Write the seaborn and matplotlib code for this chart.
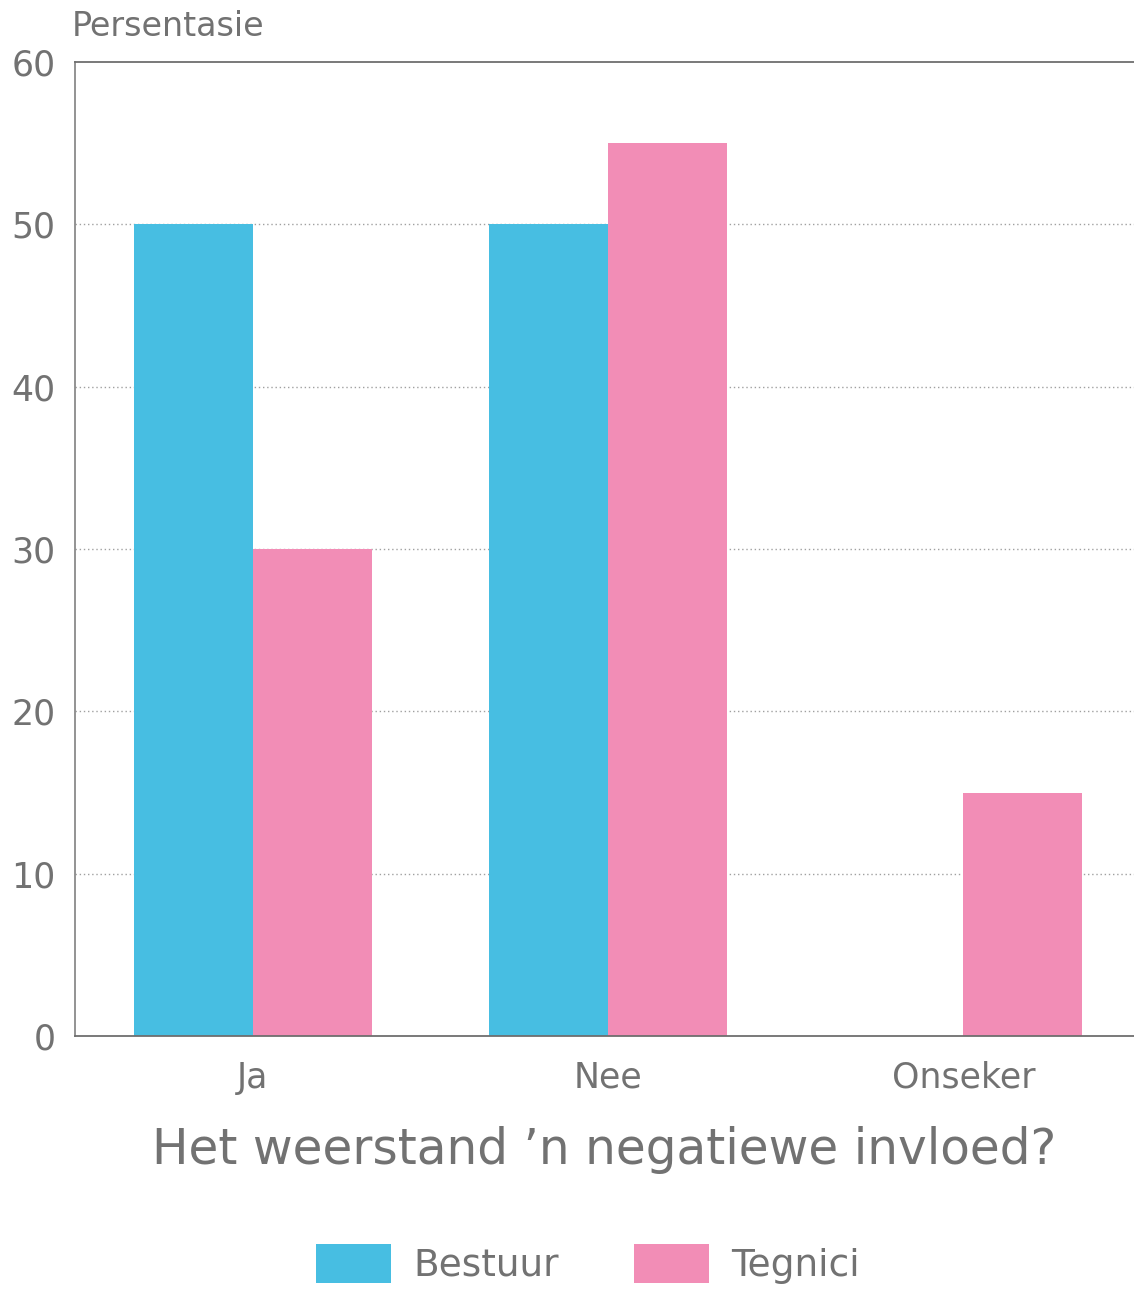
import matplotlib
matplotlib.use("Agg")
import matplotlib.pyplot as plt
import seaborn as sns
import pandas as pd
from matplotlib.patches import Patch

categories = ["Ja", "Nee", "Onseker"]
groups = ["Bestuur", "Tegnici"]
bestuur = [50, 50, 0]
tegnici = [30, 55, 15]
y_ticks = [0, 10, 20, 30, 40, 50, 60]

colors = {"Bestuur": "#47BEE2", "Tegnici": "#F28DB6"}
text_gray = "#727272"

df = pd.DataFrame({
    "kategorie": categories * 2,
    "groep": [groups[0]] * len(categories) + [groups[1]] * len(categories),
    "persentasie": bestuur + tegnici,
})

sns.set_theme(style="white")
plt.rcParams["font.family"] = ["DejaVu Sans"]

fig = plt.figure(figsize=(11.34, 12.90), dpi=100)
ax = fig.add_axes([75 / 1134, 254 / 1290, 1.0 - 75 / 1134, 974 / 1290])

sns.barplot(data=df, x="kategorie", y="persentasie", hue="groep",
            order=categories, hue_order=groups, palette=colors,
            width=0.67, saturation=1, linewidth=0, ax=ax, legend=False)

ax.set_ylim(0, 60)
ax.set_xlim(-0.5, 2.48)
ax.set_yticks(y_ticks)
ax.set_yticklabels([str(v) for v in y_ticks])
for v in y_ticks[1:-1]:
    ax.axhline(v, color="#a0a0a0", linestyle=(0, (1, 2)), linewidth=1.0, zorder=0)
ax.set_axisbelow(True)

for side in ["left", "bottom", "top"]:
    ax.spines[side].set_visible(True)
    ax.spines[side].set_color("#6e6e6e")
    ax.spines[side].set_linewidth(1.3)
ax.spines["left"].set_color("#8a8a8a")
ax.spines["right"].set_visible(False)

ax.tick_params(axis="both", length=0, labelsize=25, colors=text_gray)
ax.tick_params(axis="y", pad=14)
ax.tick_params(axis="x", pad=18)
ax.set_ylabel("")
ax.set_xlabel("Het weerstand \u2019n negatiewe invloed?", fontsize=35, color=text_gray,
              labelpad=22)

fig.text(72 / 1134, 1 - 26 / 1290, "Persentasie", fontsize=24, color=text_gray,
         ha="left", va="center")

handles = [Patch(facecolor=colors[g], edgecolor="none", label=g) for g in groups]
fig.legend(handles=handles, loc="center", bbox_to_anchor=(588 / 1134, 1 - 1264 / 1290),
           ncol=2, frameon=False, fontsize=27, labelcolor=text_gray,
           handlelength=2.0, handleheight=1.2, handletextpad=0.6, columnspacing=2.0)

fig.savefig("out.png", dpi=100)
